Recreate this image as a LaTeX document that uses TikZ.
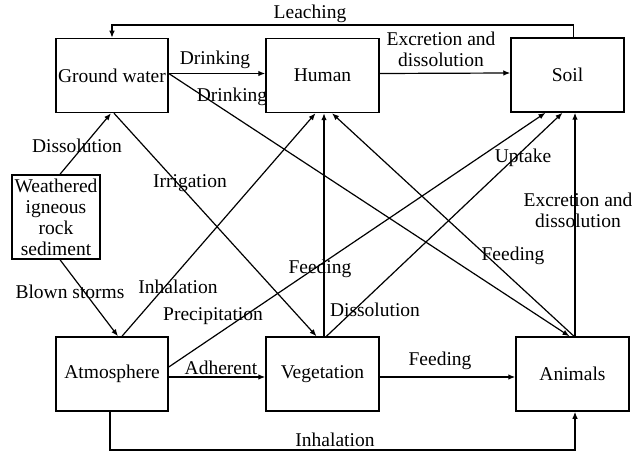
\documentclass[tikz,border=0pt]{standalone}
\usepackage{fontspec}
\setmainfont{Liberation Serif}
\usetikzlibrary{arrows.meta}

\begin{document}
\begin{tikzpicture}[x=1pt, y=-1pt, every node/.style={font=\fontsize{19.5}{21}\selectfont}, >={Latex[length=7pt,width=5.5pt]}, line width=1.2pt,
	box/.style={draw, line width=1.5pt, minimum width=112pt, minimum height=74pt, inner sep=0pt},
	lbl/.style={inner sep=0pt, align=center}]
	\useasboundingbox (0,0) rectangle (632,454);
	% compartments
	\node[box] (gw) at (112,75.5) {Ground water};
	\node[box, minimum width=113pt] (human) at (322.5,75.5) {Human};
	\node[box, minimum width=113pt] (soil) at (567.5,75) {Soil};
	\node[box, minimum width=88pt, minimum height=84pt, align=center] (rock) at (56,217) {Weathered\\igneous\\rock\\sediment};
	\node[box] (atm) at (112,374) {Atmosphere};
	\node[box, minimum width=113pt] (veg) at (322.5,374) {Vegetation};
	\node[box, minimum width=113pt] (anim) at (572.5,374) {Animals};
	\coordinate (leach) at (112,25);
	\coordinate (inh) at (575,450);
	% pathways
	\draw[->] ([xshift=6pt]soil.north) |- (leach) -- (gw.north);
	\draw[->] ([yshift=2pt]gw.east) -- ([yshift=2pt]human.west);
	\draw[->] ([yshift=2pt]gw.east) -- ([xshift=-3pt]anim.north);
	\draw[->] ([yshift=2pt]human.east) -- ([yshift=2pt]soil.west);
	\draw[->] ([xshift=4pt]rock.north) -- ([xshift=-1pt]gw.south);
	\draw[->] ([xshift=2pt]gw.south) -- ([xshift=-6pt]veg.north);
	\draw[->] ([xshift=4pt]rock.south) -- ([xshift=6pt]atm.north);
	\draw[->] ([xshift=10pt]atm.north) -- ([xshift=-7pt]human.south);
	\draw[->] ([yshift=7pt]atm.east) -- ([xshift=-22pt]soil.south);
	\draw[->] ([yshift=-3pt]atm.east) -- ([yshift=-3pt]veg.west);
	\draw[->] ([xshift=-2pt]atm.south) |- (inh) -- ([xshift=2.5pt]anim.south);
	\draw[->] ([xshift=1.5pt]veg.north) -- ([xshift=1.5pt]human.south);
	\draw[->] ([xshift=4pt]veg.north) -- ([xshift=-5pt]soil.south);
	\draw[->] ([yshift=-3pt]veg.east) -- ([yshift=-3pt]anim.west);
	\draw[->] ([xshift=2.5pt]anim.north) -- ([xshift=7.5pt]soil.south);
	\draw[->] ([xshift=1.5pt]anim.north) -- ([xshift=9.5pt]human.south);
	% labels
	\node[lbl] (lLeach) at (310,14) {Leaching};
	\node[lbl] (lDrink) at (215,60) {Drinking};
	\node[lbl] (lDrinkB) at (232,97) {Drinking};
	\node[lbl] (lExcr) at (441,49) {Excretion and\\dissolution};
	\node[lbl] (lDissRock) at (77,146) {Dissolution};
	\node[lbl] (lIrrig) at (190,183) {Irrigation};
	\node[lbl] (lBlown) at (70,292) {Blown storms};
	\node[lbl] (lInhal) at (178,287) {Inhalation};
	\node[lbl] (lPrecip) at (213,316) {Precipitation};
	\node[lbl] (lAdher) at (221,368) {Adherent};
	\node[lbl] (lInhalB) at (335,440) {Inhalation};
	\node[lbl] (lFeedVeg) at (320,269) {Feeding};
	\node[lbl] (lDissVeg) at (375,310) {Dissolution};
	\node[lbl] (lUptake) at (523,158) {Uptake};
	\node[lbl] (lExcrAnim) at (578,210) {Excretion and\\dissolution};
	\node[lbl] (lFeedAnim) at (513,256) {Feeding};
	\node[lbl] (lFeedVA) at (440,361) {Feeding};
\end{tikzpicture}
\end{document}
